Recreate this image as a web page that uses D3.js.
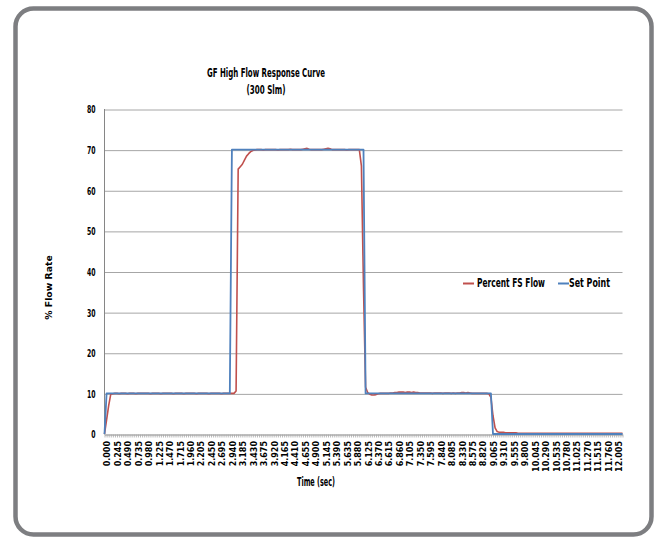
<!DOCTYPE html>
<html><head><meta charset="utf-8">
<script src="https://cdn.jsdelivr.net/npm/d3@7"></script>
<style>html,body{margin:0;padding:0;background:#fff;}svg{display:block}</style>
</head><body>
<svg id="c" width="659" height="537"></svg>
<script>
const chartTitle = ["GF High Flow Response Curve", "(300 Slm)"];
const xTitle = "Time (sec)";
const yTitle = "% Flow Rate";
const seriesNames = ["Percent FS Flow", "Set Point"];

const times = [
"0.000","0.049","0.098","0.147","0.196","0.245","0.294","0.343","0.392","0.441",
"0.490","0.539","0.588","0.637","0.686","0.735","0.784","0.833","0.882","0.931",
"0.980","1.029","1.078","1.127","1.176","1.225","1.274","1.323","1.372","1.421",
"1.470","1.519","1.568","1.617","1.666","1.715","1.764","1.813","1.862","1.911",
"1.960","2.009","2.058","2.107","2.156","2.205","2.254","2.303","2.352","2.401",
"2.450","2.499","2.548","2.597","2.646","2.695","2.744","2.793","2.842","2.891",
"2.940","2.989","3.038","3.087","3.136","3.185","3.234","3.283","3.332","3.381",
"3.430","3.479","3.528","3.577","3.626","3.675","3.724","3.773","3.822","3.871",
"3.920","3.969","4.018","4.067","4.116","4.165","4.214","4.263","4.312","4.361",
"4.410","4.459","4.508","4.557","4.606","4.655","4.704","4.753","4.802","4.851",
"4.900","4.949","4.998","5.047","5.096","5.145","5.194","5.243","5.292","5.341",
"5.390","5.439","5.488","5.537","5.586","5.635","5.684","5.733","5.782","5.831",
"5.880","5.929","5.978","6.027","6.076","6.125","6.174","6.223","6.272","6.321",
"6.370","6.419","6.468","6.517","6.566","6.615","6.664","6.713","6.762","6.811",
"6.860","6.909","6.958","7.007","7.056","7.105","7.154","7.203","7.252","7.301",
"7.350","7.399","7.448","7.497","7.546","7.595","7.644","7.693","7.742","7.791",
"7.840","7.889","7.938","7.987","8.036","8.085","8.134","8.183","8.232","8.281",
"8.330","8.379","8.428","8.477","8.526","8.575","8.624","8.673","8.722","8.771",
"8.820","8.869","8.918","8.967","9.016","9.065","9.114","9.163","9.212","9.261",
"9.310","9.359","9.408","9.457","9.506","9.555","9.604","9.653","9.702","9.751",
"9.800","9.849","9.898","9.947","9.996","10.045","10.094","10.143","10.192","10.241",
"10.290","10.339","10.388","10.437","10.486","10.535","10.584","10.633","10.682","10.731",
"10.780","10.829","10.878","10.927","10.976","11.025","11.074","11.123","11.172","11.221",
"11.270","11.319","11.368","11.417","11.466","11.515","11.564","11.613","11.662","11.711",
"11.760","11.809","11.858","11.907","11.956","12.005","12.054","12.103","12.152"
];

const percentFSFlow = [
0,3.5,7.0,9.8,9.9,10.0,10.0,9.9,10.0,10.0,
10.0,9.9,10.0,10.0,10.0,9.9,10.0,10.0,10.0,10.0,
10.0,10.0,9.9,10.0,10.0,10.0,10.0,9.9,10.0,10.0,
10.0,10.0,10.0,9.9,10.0,10.0,10.0,10.0,9.9,10.0,
10.0,10.0,10.0,10.0,9.9,10.0,10.0,10.0,10.0,10.0,
9.9,10.0,10.0,10.0,10.0,10.0,9.9,10.0,10.0,10.0,
10.0,10.0,10.0,10.6,65.2,65.8,66.4,67.4,68.4,69.0,
69.5,69.8,69.9,70.0,70.0,70.0,69.9,70.0,70.0,70.0,
70.0,70.0,70.0,69.9,70.0,70.0,70.0,70.0,70.0,70.1,
70.0,70.0,70.0,70.0,70.0,70.1,70.2,70.3,70.1,70.0,
70.0,70.0,70.0,70.0,70.0,70.1,70.2,70.3,70.2,70.0,
70.0,70.0,70.0,70.0,70.0,70.0,69.9,70.0,70.0,70.0,
70.0,70.0,70.0,66.0,36.0,11.5,10.2,9.8,9.6,9.6,
9.7,9.9,10.0,10.0,10.0,10.0,10.0,10.1,10.1,10.2,
10.2,10.3,10.3,10.3,10.2,10.3,10.3,10.2,10.3,10.2,
10.2,10.1,10.1,10.1,10.1,10.1,10.1,10.0,10.1,10.1,
10.1,10.1,10.0,10.1,10.1,10.1,10.0,10.1,10.0,10.1,
10.1,10.2,10.2,10.1,10.2,10.1,10.0,10.0,10.0,10.0,
10.0,10.0,10.0,10.0,9.9,9.0,4.5,1.5,0.6,0.4,
0.4,0.4,0.3,0.3,0.3,0.3,0.3,0.3,0.2,0.2,
0.2,0.2,0.2,0.2,0.2,0.2,0.2,0.2,0.2,0.2,
0.2,0.2,0.2,0.2,0.2,0.2,0.2,0.2,0.2,0.2,
0.2,0.2,0.2,0.2,0.2,0.2,0.2,0.2,0.2,0.2,
0.2,0.2,0.2,0.2,0.2,0.2,0.2,0.2,0.2,0.2,
0.2,0.2,0.2,0.2,0.2,0.2,0.2,0.2,0.2
];

const setPoint = [
0,10,10,10,10,10,10,10,10,10,
10,10,10,10,10,10,10,10,10,10,
10,10,10,10,10,10,10,10,10,10,
10,10,10,10,10,10,10,10,10,10,
10,10,10,10,10,10,10,10,10,10,
10,10,10,10,10,10,10,10,10,10,
10,70,70,70,70,70,70,70,70,70,
70,70,70,70,70,70,70,70,70,70,
70,70,70,70,70,70,70,70,70,70,
70,70,70,70,70,70,70,70,70,70,
70,70,70,70,70,70,70,70,70,70,
70,70,70,70,70,70,70,70,70,70,
70,70,70,70,70,10,10,10,10,10,
10,10,10,10,10,10,10,10,10,10,
10,10,10,10,10,10,10,10,10,10,
10,10,10,10,10,10,10,10,10,10,
10,10,10,10,10,10,10,10,10,10,
10,10,10,10,10,10,10,10,10,10,
10,10,10,10,10,10,0,0,0,0,
0,0,0,0,0,0,0,0,0,0,
0,0,0,0,0,0,0,0,0,0,
0,0,0,0,0,0,0,0,0,0,
0,0,0,0,0,0,0,0,0,0,
0,0,0,0,0,0,0,0,0,0,
0,0,0,0,0,0,0,0,0
];

const xTickLabels = [
"0.000","0.245","0.490","0.735","0.980","1.225","1.470","1.715","1.960","2.205",
"2.450","2.695","2.940","3.185","3.430","3.675","3.920","4.165","4.410","4.655",
"4.900","5.145","5.390","5.635","5.880","6.125","6.370","6.615","6.860","7.105",
"7.350","7.595","7.840","8.085","8.330","8.575","8.820","9.065","9.310","9.555",
"9.800","10.045","10.290","10.535","10.780","11.025","11.270","11.515","11.760","12.005"
];
const yTicks = [0,10,20,30,40,50,60,70,80];

const narrow = "'Liberation Sans Narrow','Arial Narrow','DejaVu Sans Condensed',sans-serif";
const wide = "'DejaVu Sans',Verdana,sans-serif";
const red = "#c0504d", blue = "#4f81bd";

const svg = d3.select("#c");
function fit(sel, w) { sel.attr("textLength", w).attr("lengthAdjust", "spacingAndGlyphs"); }

// frame
svg.append("rect").attr("x", 15.5).attr("y", 8.5).attr("width", 636).attr("height", 526)
  .attr("rx", 18).attr("fill", "#fff").attr("stroke", "#7d7e81").attr("stroke-width", 4.5);

const x = d3.scalePoint().domain(times).range([104.5, 622.5]);
const y = d3.scaleLinear().domain([0, 80]).range([434, 109]);

// gridlines
const grid = svg.append("g").attr("transform", "translate(104.5,0)")
  .call(d3.axisLeft(y).tickValues(yTicks.filter(v => v > 0)).tickSize(-518).tickFormat(""));
grid.select(".domain").remove();
grid.selectAll("line").attr("stroke", "#a6a6a6").attr("stroke-width", 1)
  .attr("transform", "translate(0,0.5)");

// y labels
const yl = svg.append("g").attr("transform", "translate(104.5,0)")
  .call(d3.axisLeft(y).tickValues(yTicks).tickSize(0).tickPadding(9));
yl.select(".domain").remove();
yl.selectAll("text").attr("font-family", narrow).attr("font-weight", "bold")
  .attr("font-size", 11).attr("fill", "#000").attr("dy", "0.36em")
  .each(function(d) { fit(d3.select(this), String(d).length * 4.3); });

// x axis with minor ticks
const xa = svg.append("g").attr("transform", "translate(0,434.5)")
  .call(d3.axisBottom(x).tickValues(times).tickSize(3).tickSizeOuter(0).tickFormat(""));
xa.select(".domain").attr("stroke", "#868686");
xa.selectAll("line").attr("stroke", "#a8a8a8").attr("stroke-width", 0.8);

// x labels
const xl = svg.append("g").attr("transform", "translate(0,434)")
  .call(d3.axisBottom(x).tickValues(xTickLabels).tickSize(0));
xl.select(".domain").remove();
xl.selectAll("text").attr("font-family", wide).attr("font-weight", "bold").attr("font-size", 8)
  .attr("fill", "#000").attr("text-anchor", "end").attr("x", 0).attr("y", 0).attr("dy", "0.36em")
  .attr("transform", "translate(2.6,7) rotate(-90)");

// y axis line
svg.append("line").attr("x1", 104.5).attr("x2", 104.5).attr("y1", 109).attr("y2", 434.5)
  .attr("stroke", "#868686");

// series
const line = d3.line().x((d, i) => x(times[i])).y(d => y(d));
svg.append("path").datum(percentFSFlow).attr("d", line).attr("fill", "none")
  .attr("stroke", red).attr("stroke-width", 1.6).attr("stroke-linejoin", "round");
svg.append("path").datum(setPoint).attr("d", line).attr("fill", "none")
  .attr("stroke", blue).attr("stroke-width", 1.8).attr("stroke-linejoin", "round");

// titles
const t1 = svg.append("text").attr("x", 266).attr("y", 77).attr("text-anchor", "middle")
  .attr("font-family", narrow).attr("font-weight", "bold").attr("font-size", 12).text(chartTitle[0]);
fit(t1, 118);
const t2 = svg.append("text").attr("x", 266).attr("y", 94).attr("text-anchor", "middle")
  .attr("font-family", narrow).attr("font-weight", "bold").attr("font-size", 12).text(chartTitle[1]);
fit(t2, 39);

const xt = svg.append("text").attr("x", 316).attr("y", 486).attr("text-anchor", "middle")
  .attr("font-family", narrow).attr("font-weight", "bold").attr("font-size", 12).text(xTitle);
fit(xt, 38);

svg.append("text").attr("transform", "translate(49,287.5) rotate(-90)").attr("text-anchor", "middle")
  .attr("dy", "0.36em").attr("font-family", wide).attr("font-weight", "bold").attr("font-size", 9.3)
  .text(yTitle);

// legend
const legend = [
  {name: seriesNames[0], color: red, x1: 463, tx: 477, w: 68},
  {name: seriesNames[1], color: blue, x1: 558, tx: 569, w: 41}
];
legend.forEach(l => {
  svg.append("line").attr("x1", l.x1).attr("x2", l.x1 + 11).attr("y1", 283.5).attr("y2", 283.5)
    .attr("stroke", l.color).attr("stroke-width", 2);
  const t = svg.append("text").attr("x", l.tx).attr("y", 286.5).attr("font-family", narrow)
    .attr("font-weight", "bold").attr("font-size", 11.5).text(l.name);
  fit(t, l.w);
});
</script>
</body></html>
